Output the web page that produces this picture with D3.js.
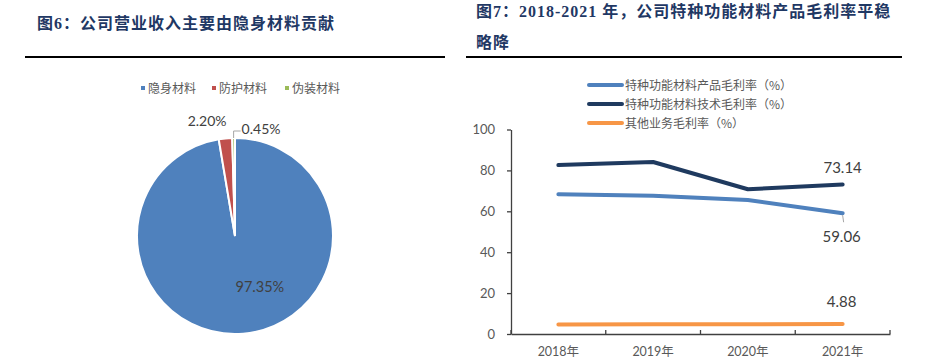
<!DOCTYPE html>
<html>
<meta charset="utf-8">
<style>
body {
  margin: 0;
  background: #fff;
}
.title {
  font-family: "Liberation Serif", "Noto Sans CJK SC", serif;
  font-weight: bold;
  font-size: 16px;
  letter-spacing: 1px;
  fill: #1f3864;
}
.lbl {
  font-family: Lato, "Noto Sans CJK SC", sans-serif;
  fill: #404040;
}
.legend text {
  font-family: "Noto Sans CJK SC", sans-serif;
  font-size: 12px;
  fill: #595959;
}
.axis text {
  font-family: Lato, "Noto Sans CJK SC", sans-serif;
  font-size: 13px;
  fill: #595959;
}
.axis path, .axis line {
  stroke: #404040;
  stroke-width: 1.3px;
}
</style>
<body>
<script src="https://d3js.org/d3.v7.min.js"></script>
<script>

// pie data
var pieNames = ["隐身材料", "防护材料", "伪装材料"];
var pieValues = [97.35, 2.20, 0.45];
var pieColors = ["#4f81bd", "#c0504d", "#9bbb59"];

// line data
var years = ["2018年", "2019年", "2020年", "2021年"];
var seriesNames = ["特种功能材料产品毛利率（%）", "特种功能材料技术毛利率（%）", "其他业务毛利率（%）"];
var productMargin = [68.3, 67.6, 65.5, 59.06];
var techMargin = [82.6, 84.1, 70.8, 73.14];
var otherMargin = [4.6, 4.8, 4.8, 4.88];
var lineColors = ["#4f81bd", "#1f3a5f", "#f79646"];
var yTicks = [0, 20, 40, 60, 80, 100];

var svg = d3.select("body").append("svg")
    .attr("width", 929)
    .attr("height", 364);

// titles
svg.append("text").attr("class", "title")
    .attr("x", 37).attr("y", 29)
    .text("图6：公司营业收入主要由隐身材料贡献");
svg.append("text").attr("class", "title")
    .attr("x", 476).attr("y", 17)
    .text("图7：2018-2021 年，公司特种功能材料产品毛利率平稳");
svg.append("text").attr("class", "title")
    .attr("x", 476).attr("y", 48)
    .text("略降");

// black rules under titles
svg.append("line").attr("x1", 25).attr("x2", 445).attr("y1", 57).attr("y2", 57)
    .attr("stroke", "#000").attr("stroke-width", 2);
svg.append("line").attr("x1", 466).attr("x2", 902).attr("y1", 57).attr("y2", 57)
    .attr("stroke", "#000").attr("stroke-width", 2);

// ---- pie ----
var pieLegend = svg.append("g").attr("class", "legend");
var legX = [141, 212, 285];
pieNames.forEach(function(n, i) {
  pieLegend.append("rect")
      .attr("x", legX[i]).attr("y", 86).attr("width", 4).attr("height", 4)
      .attr("fill", pieColors[i]);
  pieLegend.append("text")
      .attr("x", legX[i] + 7).attr("y", 92.5)
      .text(n);
});

var cx = 235, cy = 236, r = 98;
var pie = d3.pie().sort(null).value(function(d) { return d; });
var arc = d3.arc().innerRadius(0).outerRadius(r);
var arcs = pie(pieValues);

var pg = svg.append("g").attr("transform", "translate(" + cx + "," + cy + ")");
pg.selectAll("path")
    .data(arcs)
  .enter().append("path")
    .attr("d", arc)
    .attr("fill", function(d, i) { return pieColors[i]; })
    .attr("stroke", "#fff")
    .attr("stroke-width", 2);

// pie labels
var bigC = d3.arc().innerRadius(r * 0.6).outerRadius(r * 0.6).centroid(arcs[0]);
pg.append("text").attr("class", "lbl")
    .attr("x", bigC[0] + 20).attr("y", bigC[1] - 3)
    .attr("text-anchor", "middle").style("font-size", "14.5px")
    .text(pieValues[0].toFixed(2) + "%");

var redC = d3.arc().innerRadius(r + 14).outerRadius(r + 14).centroid(arcs[1]);
pg.append("text").attr("class", "lbl")
    .attr("x", redC[0] - 17).attr("y", redC[1] + 1)
    .attr("text-anchor", "middle").style("font-size", "14px")
    .text(pieValues[1].toFixed(2) + "%");

var greenEdge = d3.arc().innerRadius(r).outerRadius(r).centroid(arcs[2]);
pg.append("polyline")
    .attr("points", [[greenEdge[0], greenEdge[1]], [greenEdge[0], greenEdge[1] - 7], [greenEdge[0] + 7, greenEdge[1] - 7]].join(" "))
    .attr("fill", "none").attr("stroke", "#a6a6a6").attr("stroke-width", 1);
pg.append("text").attr("class", "lbl")
    .attr("x", greenEdge[0] + 8).attr("y", greenEdge[1] - 4)
    .style("font-size", "14px")
    .text(pieValues[2].toFixed(2) + "%");

// ---- line chart ----
var x = d3.scaleBand().domain(years).range([511, 890]);
var y = d3.scaleLinear().domain([0, 100]).range([334, 129.5]);

svg.append("g").attr("class", "axis")
    .attr("transform", "translate(511,0)")
    .call(d3.axisLeft(y).tickValues(yTicks).tickSize(4).tickPadding(12).tickSizeOuter(0));

var xAxis = svg.append("g").attr("class", "axis")
    .attr("transform", "translate(0,334)");
xAxis.call(d3.axisBottom(x).tickSize(0).tickPadding(13));
xAxis.selectAll(".tick text").style("font-size", "12.5px");
// category boundary ticks (pointing up)
var bounds = years.map(function(d) { return x(d); }).concat([x.range()[1]]);
xAxis.selectAll(".bound")
    .data(bounds)
  .enter().append("line")
    .attr("x1", function(d) { return d; }).attr("x2", function(d) { return d; })
    .attr("y1", 0).attr("y2", -4);

var series = [productMargin, techMargin, otherMargin];
var line = d3.line()
    .x(function(d, i) { return x(years[i]) + x.bandwidth() / 2; })
    .y(function(d) { return y(d); });

// draw order: orange, light blue, dark
[2, 0, 1].forEach(function(k) {
  svg.append("path")
      .datum(series[k])
      .attr("d", line)
      .attr("fill", "none")
      .attr("stroke", lineColors[k])
      .attr("stroke-width", 4)
      .attr("stroke-linecap", "round")
      .attr("stroke-linejoin", "round");
});

// end labels
var lastX = x(years[3]) + x.bandwidth() / 2;
svg.append("text").attr("class", "lbl")
    .attr("x", lastX).attr("y", y(techMargin[3]) - 11)
    .attr("text-anchor", "middle").style("font-size", "15px")
    .text(techMargin[3].toFixed(2));
svg.append("line")
    .attr("x1", lastX).attr("x2", lastX + 1)
    .attr("y1", y(productMargin[3]) + 2).attr("y2", y(productMargin[3]) + 9)
    .attr("stroke", "#a6a6a6").attr("stroke-width", 1);
svg.append("text").attr("class", "lbl")
    .attr("x", lastX - 1).attr("y", y(productMargin[3]) + 29)
    .attr("text-anchor", "middle").style("font-size", "15px")
    .text(productMargin[3].toFixed(2));
svg.append("text").attr("class", "lbl")
    .attr("x", lastX - 1).attr("y", y(otherMargin[3]) - 17)
    .attr("text-anchor", "middle").style("font-size", "15px")
    .text(otherMargin[3].toFixed(2));

// legend
var lg = svg.append("g").attr("class", "legend");
seriesNames.forEach(function(n, i) {
  var yy = 85 + i * 19;
  lg.append("line")
      .attr("x1", 589).attr("x2", 622).attr("y1", yy).attr("y2", yy)
      .attr("stroke", lineColors[i]).attr("stroke-width", 4)
      .attr("stroke-linecap", "round");
  lg.append("text")
      .attr("x", 625).attr("y", yy + 4.5)
      .text(n);
});
</script>
</body>
</html>
